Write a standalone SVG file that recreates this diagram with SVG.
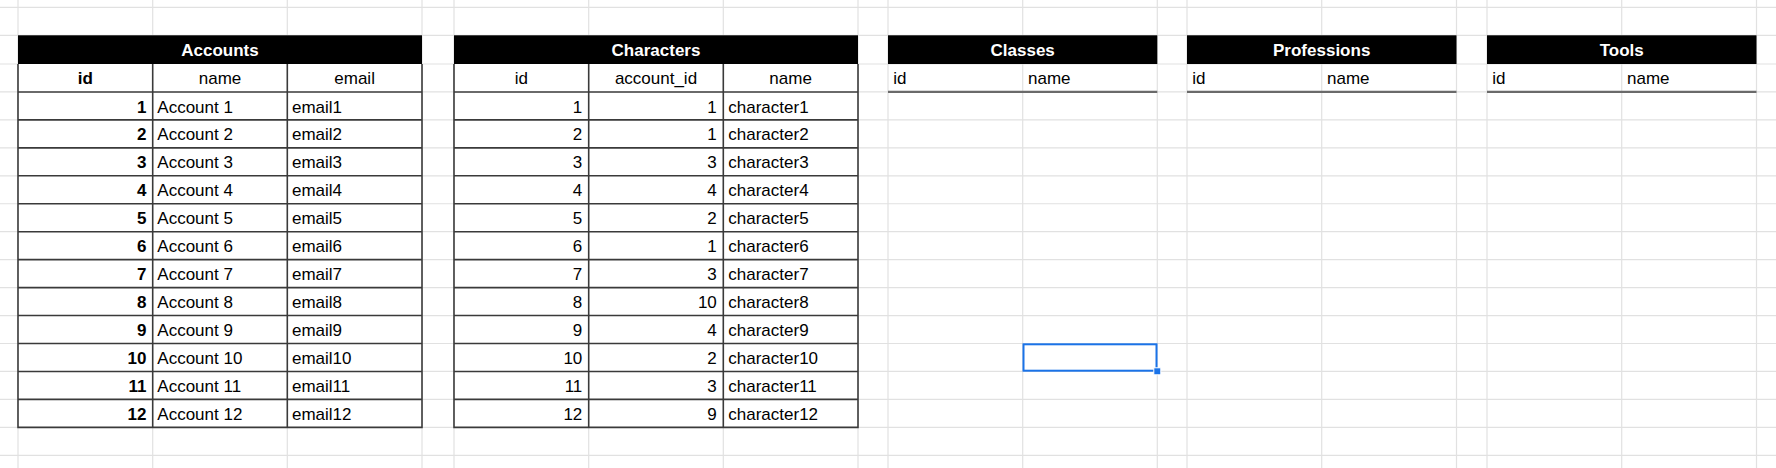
<svg xmlns="http://www.w3.org/2000/svg" width="1776" height="468" viewBox="0 0 1776 468">
<style>
text{font-family:"Liberation Sans",Arial,sans-serif;font-size:17px;fill:#000}
.grid line{stroke:#e1e1e1;stroke-width:1.2}
.band{fill:#000}
.bt{fill:#fff;font-weight:bold;text-anchor:middle}
.b{stroke:#3a3a3a;stroke-width:1.6;fill:none}
.hb{stroke:#6a6a6a;stroke-width:2.2}
.c{text-anchor:middle}
.r{text-anchor:end}
.bold{font-weight:bold}
</style>
<rect width="1776" height="468" fill="#fff"/>
<g class="grid" id="gridlines">
<line x1="0" y1="7.3" x2="1776" y2="7.3"/>
<line x1="0" y1="35.3" x2="1776" y2="35.3"/>
<line x1="0" y1="64" x2="1776" y2="64"/>
<line x1="0" y1="91.95" x2="1776" y2="91.95"/>
<line x1="0" y1="119.9" x2="1776" y2="119.9"/>
<line x1="0" y1="147.85" x2="1776" y2="147.85"/>
<line x1="0" y1="175.8" x2="1776" y2="175.8"/>
<line x1="0" y1="203.75" x2="1776" y2="203.75"/>
<line x1="0" y1="231.7" x2="1776" y2="231.7"/>
<line x1="0" y1="259.65" x2="1776" y2="259.65"/>
<line x1="0" y1="287.6" x2="1776" y2="287.6"/>
<line x1="0" y1="315.55" x2="1776" y2="315.55"/>
<line x1="0" y1="343.5" x2="1776" y2="343.5"/>
<line x1="0" y1="371.45" x2="1776" y2="371.45"/>
<line x1="0" y1="399.4" x2="1776" y2="399.4"/>
<line x1="0" y1="427.35" x2="1776" y2="427.35"/>
<line x1="0" y1="455.3" x2="1776" y2="455.3"/>
<line x1="18" y1="0" x2="18" y2="468"/>
<line x1="152.7" y1="0" x2="152.7" y2="468"/>
<line x1="287.3" y1="0" x2="287.3" y2="468"/>
<line x1="422" y1="0" x2="422" y2="468"/>
<line x1="454" y1="0" x2="454" y2="468"/>
<line x1="588.7" y1="0" x2="588.7" y2="468"/>
<line x1="723.3" y1="0" x2="723.3" y2="468"/>
<line x1="858" y1="0" x2="858" y2="468"/>
<line x1="888" y1="0" x2="888" y2="468"/>
<line x1="1022.7" y1="0" x2="1022.7" y2="468"/>
<line x1="1157.3" y1="0" x2="1157.3" y2="468"/>
<line x1="1187" y1="0" x2="1187" y2="468"/>
<line x1="1321.7" y1="0" x2="1321.7" y2="468"/>
<line x1="1456.5" y1="0" x2="1456.5" y2="468"/>
<line x1="1487" y1="0" x2="1487" y2="468"/>
<line x1="1621.7" y1="0" x2="1621.7" y2="468"/>
<line x1="1756.5" y1="0" x2="1756.5" y2="468"/>
</g>

<g id="accounts">
<rect x="18" y="64" width="404" height="363.35" fill="#fff"/>
<rect class="band" x="18" y="35.3" width="404" height="28.7"/>
<text class="bt" x="220" y="55.8">Accounts</text>
<path class="b" d="M18 64V427.35H422V64M152.7 64V427.35M287.3 64V427.35M18 91.95H422M18 119.9H422M18 147.85H422M18 175.8H422M18 203.75H422M18 231.7H422M18 259.65H422M18 287.6H422M18 315.55H422M18 343.5H422M18 371.45H422M18 399.4H422"/>
<text class="c bold" x="85.3" y="84.2">id</text>
<text class="c" x="220" y="84.2">name</text>
<text class="c" x="354.6" y="84.2">email</text>
<g class="r bold">
<text x="146.5" y="112.5">1</text><text x="146.5" y="140.4">2</text><text x="146.5" y="168.4">3</text><text x="146.5" y="196.3">4</text><text x="146.5" y="224.3">5</text><text x="146.5" y="252.2">6</text><text x="146.5" y="280.2">7</text><text x="146.5" y="308.1">8</text><text x="146.5" y="336.1">9</text><text x="146.5" y="364">10</text><text x="146.5" y="392">11</text><text x="146.5" y="419.9">12</text>
</g>
<g>
<text x="157.3" y="112.5">Account 1</text><text x="157.3" y="140.4">Account 2</text><text x="157.3" y="168.4">Account 3</text><text x="157.3" y="196.3">Account 4</text><text x="157.3" y="224.3">Account 5</text><text x="157.3" y="252.2">Account 6</text><text x="157.3" y="280.2">Account 7</text><text x="157.3" y="308.1">Account 8</text><text x="157.3" y="336.1">Account 9</text><text x="157.3" y="364">Account 10</text><text x="157.3" y="392">Account 11</text><text x="157.3" y="419.9">Account 12</text>
</g>
<g>
<text x="292" y="112.5">email1</text><text x="292" y="140.4">email2</text><text x="292" y="168.4">email3</text><text x="292" y="196.3">email4</text><text x="292" y="224.3">email5</text><text x="292" y="252.2">email6</text><text x="292" y="280.2">email7</text><text x="292" y="308.1">email8</text><text x="292" y="336.1">email9</text><text x="292" y="364">email10</text><text x="292" y="392">email11</text><text x="292" y="419.9">email12</text>
</g>
</g>

<g id="characters">
<rect x="454" y="64" width="404" height="363.35" fill="#fff"/>
<rect class="band" x="454" y="35.3" width="404" height="28.7"/>
<text class="bt" x="656" y="55.8">Characters</text>
<path class="b" d="M454 64V427.35H858V64M588.7 64V427.35M723.3 64V427.35M454 91.95H858M454 119.9H858M454 147.85H858M454 175.8H858M454 203.75H858M454 231.7H858M454 259.65H858M454 287.6H858M454 315.55H858M454 343.5H858M454 371.45H858M454 399.4H858"/>
<text class="c" x="521.3" y="84.2">id</text>
<text class="c" x="656" y="84.2">account_id</text>
<text class="c" x="790.6" y="84.2">name</text>
<g class="r">
<text x="582.3" y="112.5">1</text><text x="582.3" y="140.4">2</text><text x="582.3" y="168.4">3</text><text x="582.3" y="196.3">4</text><text x="582.3" y="224.3">5</text><text x="582.3" y="252.2">6</text><text x="582.3" y="280.2">7</text><text x="582.3" y="308.1">8</text><text x="582.3" y="336.1">9</text><text x="582.3" y="364">10</text><text x="582.3" y="392">11</text><text x="582.3" y="419.9">12</text>
</g>
<g class="r">
<text x="716.8" y="112.5">1</text><text x="716.8" y="140.4">1</text><text x="716.8" y="168.4">3</text><text x="716.8" y="196.3">4</text><text x="716.8" y="224.3">2</text><text x="716.8" y="252.2">1</text><text x="716.8" y="280.2">3</text><text x="716.8" y="308.1">10</text><text x="716.8" y="336.1">4</text><text x="716.8" y="364">2</text><text x="716.8" y="392">3</text><text x="716.8" y="419.9">9</text>
</g>
<g>
<text x="728.3" y="112.5">character1</text><text x="728.3" y="140.4">character2</text><text x="728.3" y="168.4">character3</text><text x="728.3" y="196.3">character4</text><text x="728.3" y="224.3">character5</text><text x="728.3" y="252.2">character6</text><text x="728.3" y="280.2">character7</text><text x="728.3" y="308.1">character8</text><text x="728.3" y="336.1">character9</text><text x="728.3" y="364">character10</text><text x="728.3" y="392">character11</text><text x="728.3" y="419.9">character12</text>
</g>
</g>

<g id="classes">
<rect class="band" x="888" y="35.3" width="269.3" height="28.7"/>
<text class="bt" x="1022.7" y="55.8">Classes</text>
<line class="hb" x1="888" y1="91.95" x2="1157.3" y2="91.95"/>
<text x="893.3" y="84.2">id</text>
<text x="1028" y="84.2">name</text>
</g>

<g id="professions">
<rect class="band" x="1187" y="35.3" width="269.5" height="28.7"/>
<text class="bt" x="1321.7" y="55.8">Professions</text>
<line class="hb" x1="1187" y1="91.95" x2="1456.5" y2="91.95"/>
<text x="1192.3" y="84.2">id</text>
<text x="1327" y="84.2">name</text>
</g>

<g id="tools">
<rect class="band" x="1487" y="35.3" width="269.5" height="28.7"/>
<text class="bt" x="1621.7" y="55.8">Tools</text>
<line class="hb" x1="1487" y1="91.95" x2="1756.5" y2="91.95"/>
<text x="1492.3" y="84.2">id</text>
<text x="1627" y="84.2">name</text>
</g>

<g id="selection">
<rect x="1023.5" y="344.3" width="133" height="26.4" fill="none" stroke="#1a73e8" stroke-width="2"/>
<rect x="1153.8" y="367.8" width="7" height="7" fill="#1a73e8" stroke="#fff" stroke-width="1"/>
</g>
</svg>
